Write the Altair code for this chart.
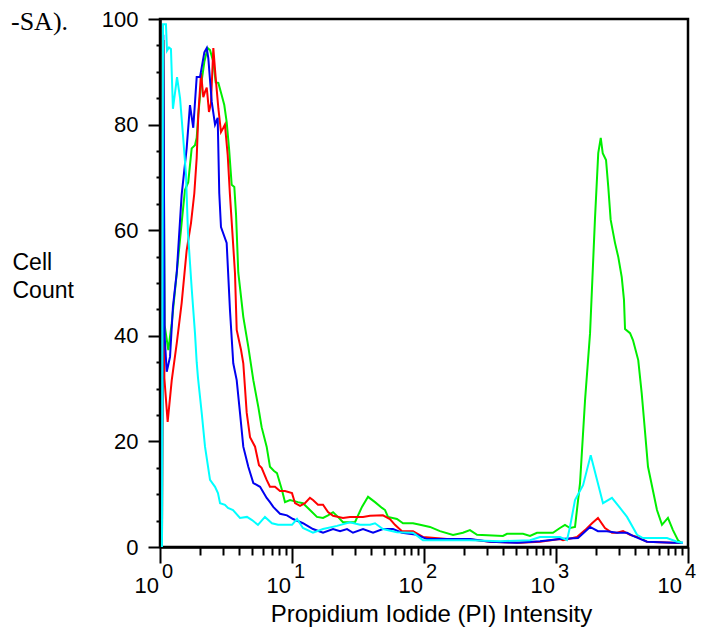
import altair as alt
import pandas as pd

# Values: log10 of PI intensity and cell count
cyan_log_pi = [0.015, 0.023, 0.045, 0.053, 0.068, 0.083, 0.098, 0.129, 0.152, 0.174, 0.197, 0.212, 0.240, 0.265, 0.278, 0.288, 0.316, 0.341, 0.379, 0.417, 0.439, 0.455, 0.492, 0.515, 0.553, 0.606, 0.659, 0.697, 0.742, 0.795, 0.848, 0.894, 0.947, 1.0, 1.038, 1.083, 1.159, 1.235, 1.341, 1.439, 1.515, 1.591, 1.629, 1.689, 1.795, 1.917, 1.992, 2.348, 2.576, 2.803, 2.879, 3.030, 3.083, 3.106, 3.144, 3.205, 3.263, 3.311, 3.356, 3.424, 3.485, 3.538, 3.614, 3.659, 3.841, 3.917, 3.962]
cyan_count = [0, 99, 99, 94, 94.6, 94.3, 83, 89, 85, 78, 70.5, 59.5, 49, 40.5, 35, 32, 25.4, 19, 12.7, 11.4, 10.2, 8.3, 8, 7.4, 7, 5.5, 5.7, 5.1, 4.2, 5.7, 4.5, 4.2, 4.2, 4.2, 5.3, 3.6, 2.7, 3.4, 4.0, 4.7, 4.2, 4.2, 4.5, 3.4, 2.8, 2.7, 1.3, 1.3, 1.1, 1.3, 1.9, 1.9, 1.3, 3.8, 8.9, 11.7, 17.4, 12.7, 8.3, 9.3, 7.4, 5.7, 2.3, 1.7, 1.7, 1.0, 0.8]

blue_log_pi = [0.015, 0.025, 0.035, 0.051, 0.076, 0.098, 0.127, 0.164, 0.202, 0.227, 0.252, 0.278, 0.303, 0.336, 0.354, 0.366, 0.392, 0.417, 0.437, 0.449, 0.462, 0.505, 0.530, 0.555, 0.581, 0.606, 0.631, 0.669, 0.707, 0.758, 0.808, 0.833, 0.858, 0.909, 0.962, 1.008, 1.083, 1.159, 1.235, 1.311, 1.364, 1.417, 1.462, 1.538, 1.614, 1.689, 1.765, 1.833, 1.947, 2.023, 2.348, 2.5, 2.705, 2.879, 3.030, 3.167, 3.258, 3.318, 3.386, 3.462, 3.538, 3.583, 3.689, 3.886, 3.962]
blue_count = [0, 97, 40, 33.2, 36, 45.5, 52, 66.7, 75.5, 83.7, 79.4, 89, 89, 93.7, 94.5, 92.6, 84.3, 80, 81.3, 67, 60.6, 57.6, 44.9, 34.8, 31.6, 25.4, 19, 15.2, 12.1, 11.4, 9.3, 8.5, 7.6, 6.3, 6, 5.3, 4.5, 3.4, 2.7, 3.4, 3.0, 3.4, 2.7, 3.4, 2.7, 3.4, 3.4, 2.7, 2.3, 1.5, 1.5, 1.0, 0.8, 1.1, 1.5, 1.7, 3.8, 3.0, 3.0, 2.7, 2.7, 2.1, 1.0, 0.8, 0.8]

red_log_pi = [0.015, 0.025, 0.033, 0.058, 0.089, 0.127, 0.164, 0.202, 0.235, 0.260, 0.278, 0.290, 0.311, 0.328, 0.341, 0.354, 0.361, 0.371, 0.386, 0.404, 0.422, 0.442, 0.462, 0.480, 0.492, 0.513, 0.530, 0.568, 0.581, 0.614, 0.631, 0.657, 0.682, 0.720, 0.750, 0.770, 0.808, 0.833, 0.871, 0.909, 0.947, 1.0, 1.023, 1.061, 1.098, 1.136, 1.159, 1.197, 1.235, 1.273, 1.311, 1.386, 1.439, 1.538, 1.591, 1.689, 1.742, 1.780, 1.833, 1.917, 1.992, 2.174, 2.326, 2.5, 2.727, 2.879, 3.030, 3.053, 3.159, 3.220, 3.273, 3.318, 3.371, 3.424, 3.462, 3.508, 3.561, 3.614, 3.689, 3.886, 3.939]
red_count = [0, 96, 32, 23.7, 31.6, 38.6, 46.2, 56.2, 61.4, 67, 73.7, 81.8, 89.8, 85.2, 86.2, 87, 85.2, 82.4, 84, 94.5, 88.8, 83.1, 78.6, 79.4, 80, 74.2, 66.7, 51.9, 41.1, 37.3, 34.8, 25.4, 20.8, 19, 15.5, 15, 12.7, 11.4, 11.4, 10.6, 10.6, 10.2, 8.3, 7.8, 8.3, 9.3, 8.9, 8.0, 8.0, 6.6, 5.9, 5.5, 5.7, 5.7, 5.9, 6, 5.3, 4.2, 3.0, 3.0, 1.9, 1.5, 1.5, 1.0, 0.8, 1.0, 1.5, 1.3, 1.9, 3.2, 4.5, 5.5, 3.6, 2.7, 2.7, 3.0, 2.3, 1.9, 1.0, 0.8, 0.8]

green_log_pi = [0.015, 0.025, 0.035, 0.063, 0.089, 0.127, 0.164, 0.189, 0.214, 0.240, 0.265, 0.278, 0.290, 0.311, 0.336, 0.361, 0.379, 0.404, 0.422, 0.442, 0.467, 0.487, 0.505, 0.523, 0.543, 0.563, 0.576, 0.593, 0.631, 0.669, 0.707, 0.745, 0.770, 0.808, 0.833, 0.864, 0.886, 0.924, 0.947, 0.985, 1.045, 1.083, 1.136, 1.189, 1.235, 1.273, 1.311, 1.348, 1.386, 1.477, 1.530, 1.576, 1.629, 1.682, 1.705, 1.727, 1.795, 1.841, 1.917, 1.970, 2.045, 2.121, 2.220, 2.295, 2.348, 2.402, 2.598, 2.629, 2.75, 2.803, 2.856, 2.977, 3.030, 3.068, 3.106, 3.144, 3.182, 3.220, 3.258, 3.295, 3.320, 3.339, 3.354, 3.379, 3.396, 3.414, 3.447, 3.472, 3.498, 3.515, 3.523, 3.561, 3.583, 3.623, 3.649, 3.667, 3.697, 3.765, 3.803, 3.848, 3.886, 3.924, 3.947]
green_count = [0, 96, 42, 37.3, 42.4, 51.9, 61.4, 67.6, 69.1, 75.5, 76.1, 77.5, 81.8, 87.5, 91.9, 94.5, 94.1, 91.9, 88, 87.9, 85.6, 83.7, 80.5, 75.5, 68.6, 68.2, 63, 52, 43.6, 37.9, 31.6, 26.5, 22.7, 19, 15.2, 14.4, 14, 10.8, 8.5, 8.9, 8.5, 8.3, 7, 5.7, 5.5, 6, 6.6, 5.7, 4.7, 4.7, 7.6, 9.5, 8.5, 7.4, 7, 5.7, 5.3, 4.5, 4.5, 4.2, 3.8, 3.0, 2.3, 2.7, 3.2, 2.3, 2.1, 2.5, 2.5, 2.1, 2.7, 2.7, 3.6, 4.2, 3.6, 3.8, 12.1, 27.8, 40.5, 62, 74.6, 77.5, 74.6, 73.3, 68.2, 62, 57.6, 54.9, 51.1, 46.8, 41.3, 40.5, 39.2, 35.4, 29.2, 24, 15.2, 7, 4.2, 5.5, 3.2, 1.3, 0.8]

series_colors = {"green": "#00EE00", "red": "#FF0000", "blue": "#0000F0", "cyan": "#00FFFF"}

decades = [1, 10, 100, 1000, 10000]
decade_base = ["10", "10", "10", "10", "10"]
decade_exp = ["0", "1", "2", "3", "4"]
x_minor = [m * d for d in [1, 10, 100, 1000] for m in range(2, 10)]
x_ticks = sorted(decades + x_minor)
y_ticks = list(range(0, 101, 5))

corner_text = ["-SA)."]

FONT = "Liberation Sans"

x_scale = alt.Scale(type="log", domain=[1, 10000], nice=False)
y_scale = alt.Scale(domain=[0, 100], nice=False, zero=False)

x_enc = alt.X(
    "pi:Q",
    scale=x_scale,
    axis=alt.Axis(
        values=x_ticks,
        labels=False,
        grid=False,
        domainColor="black",
        domainWidth=2.5,
        tickColor="black",
        tickWidth=2,
        tickSize={"condition": {"test": "indexof([1,10,100,1000,10000], datum.value) >= 0", "value": 16}, "value": 8},
        title="Propidium Iodide (PI) Intensity",
        titleFont=FONT,
        titleFontSize=24,
        titleFontWeight="normal",
        titleColor="black",
        titleX=271,
        titleY=74,
        titleBaseline="alphabetic",
    ),
)
y_enc = alt.Y(
    "count:Q",
    scale=y_scale,
    axis=alt.Axis(
        values=y_ticks,
        labelExpr="datum.value % 20 === 0 ? datum.label : ''",
        labelFont=FONT,
        labelFontSize=22,
        labelColor="black",
        labelPadding=10,
        labelOverlap=False,
        labelFlush=False,
        grid=False,
        domainColor="black",
        domainWidth=2.5,
        tickColor="black",
        tickWidth=2,
        tickSize={"condition": {"test": "datum.value % 20 === 0", "value": 12}, "value": 4},
        title=["Cell", "Count"],
        titleFont=FONT,
        titleFontSize=23,
        titleFontWeight="normal",
        titleColor="black",
        titleAngle=0,
        titleAlign="left",
        titleBaseline="alphabetic",
        titleX=-148,
        titleY=250,
        titleLineHeight=28,
    ),
)

def series_df(logs, counts):
    return pd.DataFrame({"pi": [10 ** v for v in logs], "count": counts})

layers = []
for name, logs, counts in [
    ("green", green_log_pi, green_count),
    ("red", red_log_pi, red_count),
    ("blue", blue_log_pi, blue_count),
    ("cyan", cyan_log_pi, cyan_count),
]:
    layers.append(
        alt.Chart(series_df(logs, counts))
        .mark_line(color=series_colors[name], strokeWidth=2, clip=True)
        .encode(x=x_enc, y=y_enc)
    )

dec_df = pd.DataFrame({"pi": decades, "base": decade_base, "exp": decade_exp})
inner_dec = dec_df.iloc[:-1]
last_dec = dec_df.iloc[-1:]

def decade_labels(df, shift):
    base_text = (
        alt.Chart(df)
        .mark_text(align="right", baseline="alphabetic", font=FONT, fontSize=22, color="black", dx=-1 + shift)
        .encode(x=x_enc, y=alt.value(593 - 19), text="base:N")
    )
    exp_text = (
        alt.Chart(df)
        .mark_text(align="left", baseline="alphabetic", font=FONT, fontSize=20, color="black", dx=2 + shift)
        .encode(x=x_enc, y=alt.value(578 - 19), text="exp:N")
    )
    return [base_text, exp_text]

corner = (
    alt.Chart(pd.DataFrame({"t": corner_text}))
    .mark_text(align="left", baseline="alphabetic", font="Liberation Serif", fontSize=26, color="black")
    .encode(x=alt.value(-149), y=alt.value(30 - 19), text="t:N")
)

chart = (
    alt.layer(*layers, *decade_labels(inner_dec, 0), *decade_labels(last_dec, -5), corner)
    .properties(
        width=528,
        height=528,
        autosize=alt.AutoSizeParams(type="none"),
        padding={"left": 152, "top": 11, "right": 10, "bottom": 80},
        background="white",
    )
    .configure_view(stroke="black", strokeWidth=2.5)
)

chart.save("out.html", embed_options={"renderer": "svg", "actions": False})
